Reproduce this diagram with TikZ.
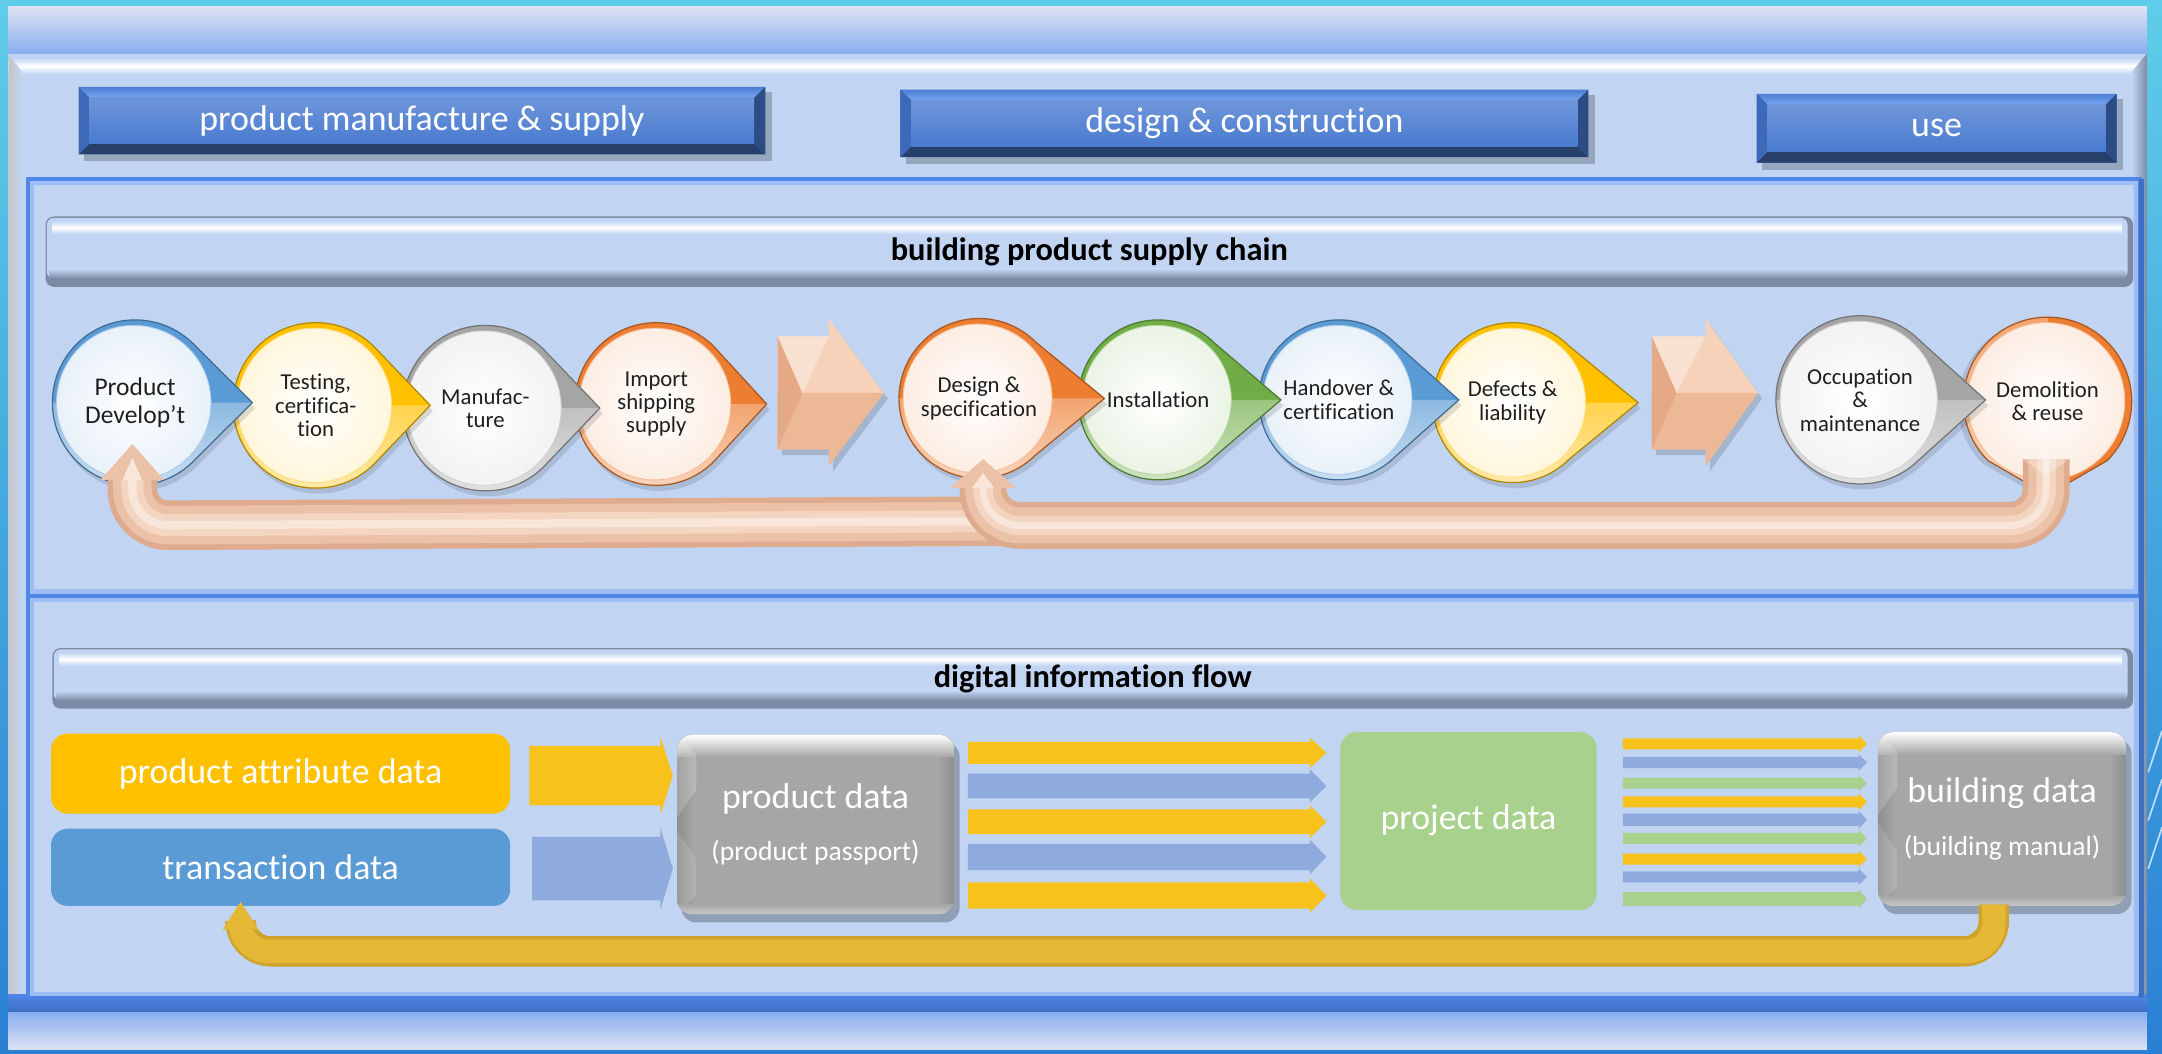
\documentclass[tikz,border=0pt]{standalone}
\usepackage{fontspec}
\setmainfont{Carlito}[Ligatures={NoCommon}]
\usetikzlibrary{calc}
\definecolor{bgtop}{HTML}{5FCDE9}
\definecolor{bgbot}{HTML}{2A80D4}
\definecolor{panel}{HTML}{C1D5F3}
\definecolor{hdrtop}{HTML}{DDE2F3}
\definecolor{hdrbot}{HTML}{88AEF0}
\definecolor{btnface}{HTML}{4A7BD0}
\definecolor{btntopa}{HTML}{4D7ED4}
\definecolor{btntopb}{HTML}{78A6F2}
\definecolor{btnbot}{HTML}{263F6B}
\definecolor{btnleft}{HTML}{3E69B8}
\definecolor{btnright}{HTML}{2C4C86}
\definecolor{frameblue}{HTML}{4F86E8}
\definecolor{framelt}{HTML}{9DBEF4}
\definecolor{framedk}{HTML}{3E6FC4}
\definecolor{barshadow}{HTML}{7C8AA3}
\definecolor{cblue}{HTML}{5B9BD5}
\definecolor{cgold}{HTML}{FFC000}
\definecolor{cgray}{HTML}{A5A5A5}
\definecolor{corange}{HTML}{ED7D31}
\definecolor{cgreen}{HTML}{70AD47}
\definecolor{peachA}{HTML}{F7D2BA}
\definecolor{peachB}{HTML}{EDB896}
\definecolor{peachC}{HTML}{E6A985}
\definecolor{tube1}{HTML}{DFAB8E}
\definecolor{tube2}{HTML}{EBC1A7}
\definecolor{tube3}{HTML}{F3D5C2}
\definecolor{tube4}{HTML}{F9E6DA}
\definecolor{ylw}{HTML}{F8C21C}
\definecolor{ablue}{HTML}{8FAADC}
\definecolor{agreen}{HTML}{A9D18E}
\definecolor{padyel}{HTML}{FFC000}
\definecolor{trblue}{HTML}{5B9BD5}
\definecolor{projgreen}{HTML}{A9D18E}
\definecolor{retyel}{HTML}{E4B834}
\definecolor{retyeldk}{HTML}{CFA42C}
\definecolor{grayB}{HTML}{A6A6A6}
\definecolor{grayD}{HTML}{8E8E8E}
\definecolor{grayL}{HTML}{C8C8C8}

\tikzset{
  btntext/.style={text=white,font=\fontsize{26}{30}\selectfont,inner sep=0pt},
  bartext/.style={text=black,font=\bfseries\fontsize{23.5}{28}\selectfont,inner sep=0pt},
  ctext/.style={text=black!88,font=\fontsize{16.5}{17}\selectfont,align=center,inner sep=0pt},
  bigctext/.style={font=\fontsize{18.5}{20}\selectfont},
  boxtext/.style={text=white,font=\fontsize{26}{30}\selectfont,align=center,inner sep=0pt},
  tubeline/.style={line cap=butt,line join=round,rounded corners=26},
}

\newcommand\bevelbtn[6]{%
  \fill[black,opacity=.22] (#2+4,#3+4) rectangle (#4+5,#5+5);
  \fill[btnface] (#2,#3) rectangle (#4,#5);
  \shade[top color=btntopa,bottom color=btntopb] (#2,#3) -- (#4,#3) -- (#4-8,#3+8) -- (#2+8,#3+8) -- cycle;
  \fill[btnbot] (#2,#5) -- (#4,#5) -- (#4-8,#5-8) -- (#2+8,#5-8) -- cycle;
  \fill[btnleft] (#2,#3) -- (#2+8,#3+8) -- (#2+8,#5-8) -- (#2,#5) -- cycle;
  \fill[btnright] (#4,#3) -- (#4-8,#3+8) -- (#4-8,#5-8) -- (#4,#5) -- cycle;
  \shade[top color=btnface!80!white,bottom color=btnface] (#2+8,#3+8) rectangle (#4-8,#5-8);
  \node[btntext] (#1) at ({(#2+#4)/2},{(#3+#5)/2}) {#6};
}

\newcommand\glossbar[6]{%
  \fill[barshadow,rounded corners=6] (#2,#3) rectangle (#4,#5);
  \fill[panel,rounded corners=5] (#2+1,#3+1) rectangle (#4-4,#5-6);
  \shade[top color=panel,bottom color=panel,middle color=white] (#2+5,#3+3) rectangle (#4-8,#3+13);
  \shade[top color=panel,bottom color=barshadow] (#2+3,#5-13) rectangle (#4-5,#5-6);
  \node[bartext] (#1) at ({(#2+#4)/2},{(#3+#5)/2}) {#6};
}

\newcommand\graybox[6]{%
  \fill[black,opacity=.25,rounded corners=11] (#2+3,#3+5) rectangle (#4+4,#5+6);
  \begin{scope}
    \clip[rounded corners=11] (#2,#3) rectangle (#4,#5);
    \fill[grayB] (#2,#3) rectangle (#4,#5);
    \shade[left color=grayD,right color=grayB] (#2,#3) rectangle (#2+12,#5);
    \shade[left color=grayB,right color=grayD] (#4-12,#3) rectangle (#4,#5);
    \shade[top color=white,bottom color=grayB] (#2,#3) rectangle (#4,#3+16);
    \fill[white,opacity=.18] (#2,#3) -- (#2+14,#3+14) -- (#2+14,#3+40) -- (#2,#3+60) -- cycle;
    \fill[white,opacity=.12] (#2,#5) -- (#2+14,#5-14) -- (#2+14,#5-40) -- (#2,#5-60) -- cycle;
    \shade[top color=grayB,bottom color=grayL] (#2,#5-7) rectangle (#4,#5);
  \end{scope}
  \node[boxtext] (#1) at ({(#2+#4)/2},{(#3+#5)/2}) {#6};
}

% name, cx, cy, r, tip, color, rotation, text, extra text style
\newcommand\tdrop[9]{%
  \begin{scope}[shift={(#2,#3)},rotate=#7]
    \fill[black,opacity=.12] (2,4) ++(45:#4) -- ++({#5-#4*0.7071},{-#4*0.7071}) -- ++({-#5+#4*0.7071},{-#4*0.7071}) arc[start angle=-45,end angle=-315,radius=#4] -- cycle;
    \fill[#6] (45:#4) -- (#5,0) -- (-45:#4) arc[start angle=-45,end angle=-315,radius=#4] -- cycle;
    \shade[top color=#6!70!white,bottom color=#6!30!white] (0,0) -- (#5,0) -- (45:#4) arc[start angle=45,end angle=180,radius=#4] -- cycle;
    \draw[#6!70!black,line width=.9] (45:#4) -- (#5,0) -- (-45:#4) arc[start angle=-45,end angle=-315,radius=#4] -- cycle;
  \end{scope}
  \shade[inner color=white,outer color=#6!14!white] (#2-1,#3) circle[radius=#4-4];
  \draw[#6!50!white,line width=.6] (#2-1,#3) circle[radius=#4-4];
  \node[ctext,#9] (#1) at (#2,#3) {#8};
}

% x1 x2 xtip yc half headextra color
\newcommand\harrow[7]{%
  \fill[#7] (#1,#4-#5) -- (#2,#4-#5) -- (#2,#4-#5-#6) -- (#3,#4) -- (#2,#4+#5+#6) -- (#2,#4+#5) -- (#1,#4+#5) -- cycle;
}

% big peach chevron: x1 (shaft start), xh (head start), xt (tip)
\newcommand\bigarrow[3]{%
  \fill[black,opacity=.15] (#1+3,248) -- (#2+3,248) -- (#2+3,235) -- (#3+3,289) -- (#2+3,342) -- (#2+3,330) -- (#1+3,330) -- cycle;
  \fill[peachA] (#1,244) -- (#2,244) -- (#2,231) -- (#3,285) -- (#1,285) -- cycle;
  \fill[peachB] (#1,285) -- (#3,285) -- (#2,338) -- (#2,326) -- (#1,326) -- cycle;
  \fill[peachC] (#1,244) -- ({#1+18},285) -- (#1,326) -- cycle;
  \fill[white,opacity=.35] (#1,244) -- (#2,244) -- ({#1+18},285) -- cycle;
}

\begin{document}
\begin{tikzpicture}[x=1pt,y=-1pt]
\useasboundingbox (0,0) rectangle (1568,764);
% ---------- background ----------
\shade[top color=bgtop,bottom color=bgbot] (0,0) rectangle (1568,764);
\foreach \yy in {530,565,600} \draw[white,opacity=.7,line width=1.2] (1558,\yy+30) -- (1568,\yy);
\fill[panel] (6,5) rectangle (1557,761);
\shade[top color=hdrtop,bottom color=hdrbot] (6,5) rectangle (1557,39);
\shade[top color=panel,bottom color=panel,middle color=white] (6,42) rectangle (1557,54);
\shade[left color=gray!45,right color=panel] (6,39) -- (16,52) -- (16,722) -- (6,733) -- cycle;
\shade[left color=panel,right color=barshadow] (1557,39) -- (1546,52) -- (1546,722) -- (1557,733) -- cycle;
\shade[top color=frameblue,bottom color=framedk] (6,721) rectangle (1557,734);
\shade[top color=hdrbot,bottom color=hdrtop] (6,734) rectangle (1557,761);

% ---------- top buttons ----------
\bevelbtn{pms}{57}{63}{555}{112}{product manufacture \& supply}
\bevelbtn{dc}{653}{65}{1152}{114}{design \& construction}
\bevelbtn{use}{1274}{68}{1535}{118}{use}

% ---------- section frames ----------
\draw[framelt,line width=3] (23,133) rectangle (1549,429);
\draw[frameblue,line width=3] (20,130) rectangle (1552,432);
\draw[framelt,line width=3] (23,435) rectangle (1549,721);
\draw[frameblue,line width=3] (20,432) -- (1552,432);
\draw[framedk,line width=4] (1553,130) -- (1553,724);
\draw[frameblue,line width=3] (20,432) -- (20,722);

% ---------- bars ----------
\glossbar{bpsc}{33}{157}{1547}{208}{building product supply chain}
\glossbar{dif}{38}{470}{1547}{514}{digital information flow}

% ---------- big chevrons ----------
\bigarrow{564}{601}{641}
\bigarrow{1198}{1237}{1275}

% ---------- teardrops (right to left) ----------
\tdrop{c10}{1485}{291}{61}{68}{corange}{-90}{Demolition\\\& reuse}{}
\tdrop{c9}{1349}{290}{61}{91}{cgray}{0}{Occupation\\\&\\maintenance}{}
\tdrop{c8}{1097}{292}{58}{91}{cgold}{0}{Defects \&\\liability}{}
\tdrop{c7}{971}{290}{58}{87}{cblue}{0}{Handover \&\\certification}{}
\tdrop{c6}{840}{290}{58}{89}{cgreen}{0}{Installation}{}
\tdrop{c5}{710}{289}{58}{91}{corange}{0}{Design \&\\specification}{}
\tdrop{c4}{476}{293}{59}{80}{corange}{0}{Import\\shipping\\supply}{}
\tdrop{c3}{352}{296}{60}{83}{cgray}{0}{Manufac-\\ture}{}
\tdrop{c2}{229}{294}{60}{83}{cgold}{0}{Testing,\\certifica-\\tion}{}
\tdrop{c1}{98}{292}{60}{85}{cblue}{0}{Product\\Develop’t}{bigctext}

% ---------- return arrows (supply chain) ----------
\coordinate (rA0) at ($(c5)+(20,89)$);
\coordinate (rA1) at ($(c1)+(-2,89)$);
\coordinate (rA2) at ($(c1)+(-2,55)$);
\foreach \w/\c in {36/tube1,28/tube2,16/tube3,6/tube4}
  \draw[line width=\w,color=\c,tubeline] (rA0) -- (rA1) -- (rA2);
\fill[tube2] ($(c1)+(-25,56)$) -- ($(c1)+(-2,30)$) -- ($(c1)+(21,56)$) -- cycle;
\fill[tube4] ($(c1)+(-9,56)$) -- ($(c1)+(-2,40)$) -- ($(c1)+(5,56)$) -- cycle;

\coordinate (rB0) at ($(c10)+(-1,42)$);
\coordinate (rB1) at ($(c10)+(-1,90)$);
\coordinate (rB2) at ($(c5)+(3,92)$);
\coordinate (rB3) at ($(c5)+(3,64)$);
\foreach \w/\c in {34/tube1,26/tube2,14/tube3,5/tube4}
  \draw[line width=\w,color=\c,tubeline] (rB0) -- (rB1) -- (rB2) -- (rB3);
\fill[tube2] ($(c5)+(-21,65)$) -- ($(c5)+(3,44)$) -- ($(c5)+(27,65)$) -- cycle;
\fill[tube4] ($(c5)+(-5,65)$) -- ($(c5)+(3,54)$) -- ($(c5)+(11,65)$) -- cycle;
\fill[white,opacity=.3] ($(c10)+(-18,42)$) -- ($(c10)+(16,42)$) -- ($(c10)+(-1,54)$) -- cycle;

% ---------- lower section ----------
\fill[padyel,rounded corners=12] (37,532) rectangle (370,590);
\node[boxtext] (pad) at (203.5,561) {product attribute data};
\fill[trblue,rounded corners=12] (37,601) rectangle (370,657);
\node[boxtext] (trd) at (203.5,629) {transaction data};

\harrow{384}{479}{488}{562.5}{21.5}{6.5}{ylw}
\harrow{386}{479}{488}{630}{23}{6.5}{ablue}

\graybox{pdata}{491}{533}{692}{663}{product data\\[8pt]{\fontsize{20}{24}\selectfont (product passport)}}

\harrow{702}{950}{962}{546}{8}{3}{ylw}
\harrow{702}{950}{962}{570}{9}{3}{ablue}
\harrow{702}{950}{962}{596}{9}{3}{ylw}
\harrow{702}{950}{962}{621.5}{9.5}{3}{ablue}
\harrow{702}{950}{962}{649.5}{9.5}{3}{ylw}

\fill[projgreen,rounded corners=12] (972,531) rectangle (1158,660);
\node[boxtext] (proj) at (1065,595) {project data};

\harrow{1177}{1348}{1354}{539.5}{4}{2}{ylw}
\harrow{1177}{1348}{1354}{553}{4}{2}{ablue}
\harrow{1177}{1348}{1354}{568}{4}{2}{agreen}
\harrow{1177}{1348}{1354}{581.5}{4}{2}{ylw}
\harrow{1177}{1348}{1354}{594.5}{4.5}{2}{ablue}
\harrow{1177}{1348}{1354}{608}{4}{2}{agreen}
\harrow{1177}{1348}{1354}{623}{4}{2}{ylw}
\harrow{1177}{1348}{1354}{636}{4}{2}{ablue}
\harrow{1177}{1348}{1354}{652}{5}{2}{agreen}

\graybox{bdata}{1362}{531}{1542}{657}{building data\\[8pt]{\fontsize{20}{24}\selectfont (building manual)}}

% ---------- return arrow (information) ----------
\coordinate (yA0) at ($(bdata)+(-6,62)$);
\coordinate (yA1) at ($(bdata)+(-6,96)$);
\coordinate (yA2) at ($(trd)+(-29,61)$);
\coordinate (yA3) at ($(trd)+(-29,44)$);
\draw[line width=22,retyeldk,line cap=butt,rounded corners=22] (yA0) -- (yA1) -- (yA2) -- (yA3);
\draw[line width=17,retyel,line cap=butt,rounded corners=20] (yA0) -- (yA1) -- (yA2) -- (yA3);
\fill[retyel] ($(trd)+(-42,45)$) -- ($(trd)+(-29,25)$) -- ($(trd)+(-16,45)$) -- cycle;
\end{tikzpicture}
\end{document}
